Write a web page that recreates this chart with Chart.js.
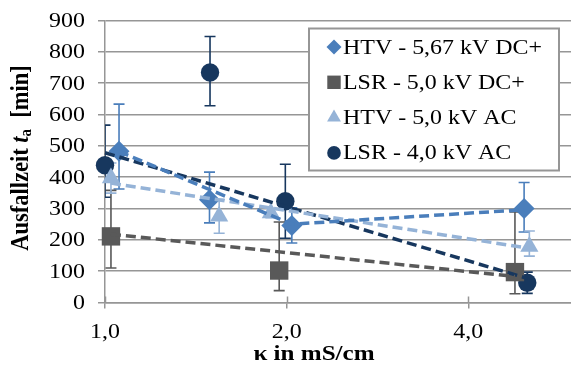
<!DOCTYPE html>
<html>
<head>
<meta charset="utf-8">
<script src="https://cdn.jsdelivr.net/npm/chart.js@4.4.0/dist/chart.umd.min.js"></script>
<style>
  html, body { margin: 0; padding: 0; background: #fff; }
</style>
</head>
<body>
<canvas id="chart" width="571" height="371"></canvas>
<script>
// x positions are kappa in mS/cm (log axis), y values are Ausfallzeit in min
const xTickValues = [1, 2, 4];
const yTickValues = [0, 100, 200, 300, 400, 500, 600, 700, 800, 900];

const htvDcX = [1.055, 1.49, 2.04, 4.95];
const htvDcY = [483, 328, 246, 300];
const htvDcUp = [150, 88, 56, 83];
const htvDcDown = [121, 74, 56, 75];
const htvDcTrendX = [1.055, 2.04, 4.95];
const htvDcTrendY = [482, 250, 296];

const lsrDcX = [1.023, 1.944, 4.78];
const lsrDcY = [211, 102, 97];
const lsrDcUp = [147, 155, 192];
const lsrDcDown = [101, 64, 69];
const lsrDcTrendX = [1.023, 4.78];
const lsrDcTrendY = [218, 83];

const htvAcX = [1.023, 1.546, 1.883, 5.05];
const htvAcY = [397, 275, 286, 179];
const htvAcUp = [48, 54, 15, 49];
const htvAcDown = [48, 54, 15, 31];
const htvAcTrendX = [1.023, 5.05];
const htvAcTrendY = [381, 173];

const lsrAcX = [1.0, 1.493, 1.99, 5.01];
const lsrAcY = [438, 734, 323, 63];
const lsrAcUp = [128, 115, 118, 34];
const lsrAcDown = [102, 106, 118, 34];
const lsrAcTrendX = [1.0, 5.01];
const lsrAcTrendY = [478, 77];

const labels = ["HTV - 5,67 kV DC+", "LSR - 5,0 kV DC+", "HTV - 5,0 kV AC", "LSR - 4,0 kV AC"];
const colors = ["#4A7EBB", "#595959", "#95B3D7", "#17375E"];

const SERIF = "'Liberation Serif', 'Times New Roman', serif";
const GRID = "#969696";
const STRETCH = 1.14; // the reference text is a bit wider than it is tall

const pts = (xs, ys) => xs.map((x, i) => ({ x, y: ys[i] }));

function markerSet(i, xs, ys, up, down, style, radius) {
  return {
    label: labels[i],
    data: pts(xs, ys),
    errUp: up,
    errDown: down,
    showLine: false,
    pointStyle: style,
    pointRadius: radius,
    pointHoverRadius: radius,
    pointBackgroundColor: colors[i],
    pointBorderColor: colors[i],
    pointBorderWidth: 0,
    backgroundColor: colors[i],
    borderColor: colors[i],
    clip: false,
    order: 2
  };
}

function trendSet(i, xs, ys) {
  return {
    label: labels[i] + " trend",
    data: pts(xs, ys),
    showLine: true,
    borderColor: colors[i],
    borderWidth: 3.5,
    borderDash: [10, 5],
    pointRadius: 0,
    fill: false,
    clip: false,
    order: 1
  };
}

// text with horizontal stretch, anchored at x
function stretchText(ctx, text, x, y, align) {
  ctx.save();
  ctx.translate(x, y);
  ctx.scale(STRETCH, 1);
  ctx.textAlign = align;
  ctx.fillText(text, 0, 0);
  ctx.restore();
}

// error bars, drawn under the markers
const errorBars = {
  id: "errorBars",
  beforeDatasetsDraw(chart) {
    const { ctx, chartArea, scales } = chart;
    ctx.save();
    ctx.beginPath();
    ctx.rect(chartArea.left, 0, chartArea.right - chartArea.left, chart.height);
    ctx.clip();
    chart.data.datasets.forEach(ds => {
      if (!ds.errUp) return;
      ctx.strokeStyle = ds.borderColor;
      ctx.lineWidth = 1.6;
      ds.data.forEach((p, i) => {
        const x = scales.x.getPixelForValue(p.x);
        const yTop = scales.y.getPixelForValue(p.y + ds.errUp[i]);
        const yBot = scales.y.getPixelForValue(p.y - ds.errDown[i]);
        ctx.beginPath();
        ctx.moveTo(x, yTop); ctx.lineTo(x, yBot);
        ctx.moveTo(x - 5.5, yTop); ctx.lineTo(x + 5.5, yTop);
        ctx.moveTo(x - 5.5, yBot); ctx.lineTo(x + 5.5, yBot);
        ctx.stroke();
      });
    });
    ctx.restore();
  }
};

// tick labels, axis titles, tick marks crossing the x axis, legend box
const extras = {
  id: "extras",
  afterDraw(chart) {
    const { ctx, chartArea, scales } = chart;
    ctx.save();

    ctx.strokeStyle = GRID;
    ctx.lineWidth = 1.5;
    xTickValues.forEach(v => {
      const x = Math.round(scales.x.getPixelForValue(v)) + 0.5;
      ctx.beginPath();
      ctx.moveTo(x, chartArea.bottom - 6);
      ctx.lineTo(x, chartArea.bottom);
      ctx.stroke();
    });

    ctx.fillStyle = "#000";
    ctx.textBaseline = "middle";
    ctx.font = "21px " + SERIF;
    yTickValues.forEach(v => {
      stretchText(ctx, String(v), 85, scales.y.getPixelForValue(v) + 1, "right");
    });
    xTickValues.forEach(v => {
      stretchText(ctx, v.toFixed(1).replace(".", ","), scales.x.getPixelForValue(v), chartArea.bottom + 30, "center");
    });

    // y title with italic t and subscript a
    ctx.textAlign = "left";
    const runs = [
      { t: "Ausfallzeit ", f: "bold 22.5px " + SERIF, dy: 0 },
      { t: "t", f: "italic bold 22.5px " + SERIF, dy: 0 },
      { t: "a", f: "bold 15px " + SERIF, dy: 5 },
      { t: "  [min]", f: "bold 22.5px " + SERIF, dy: 0 }
    ];
    let total = 0;
    runs.forEach(r => { ctx.font = r.f; r.w = ctx.measureText(r.t).width; total += r.w; });
    ctx.save();
    ctx.translate(21, 158);
    ctx.rotate(-Math.PI / 2);
    ctx.scale(1, STRETCH);
    let cx = -total / 2;
    runs.forEach(r => { ctx.font = r.f; ctx.fillText(r.t, cx, r.dy); cx += r.w; });
    ctx.restore();

    // x title
    ctx.font = "bold 22px " + SERIF;
    stretchText(ctx, "\u03BA in mS/cm", 314, 354, "center");

    // legend
    const lx = 309, ly = 28.5, lw = 250, lh = 142;
    ctx.fillStyle = "#fff";
    ctx.fillRect(lx, ly, lw, lh);
    ctx.strokeStyle = GRID;
    ctx.lineWidth = 2;
    ctx.strokeRect(lx, ly, lw, lh);
    const styles = [["rectRot", 7.5], ["rect", 9.5], ["triangle", 8], ["circle", 6.8]];
    ctx.font = "21px " + SERIF;
    for (let i = 0; i < 4; i++) {
      const y = 47 + i * 35.3;
      ctx.fillStyle = colors[i];
      ctx.strokeStyle = colors[i];
      Chart.helpers.drawPoint(ctx, { pointStyle: styles[i][0], radius: styles[i][1], borderWidth: 0, rotation: 0 }, 334, y);
      ctx.fillStyle = "#000";
      stretchText(ctx, labels[i], 343, y + 1, "left");
    }
    ctx.restore();
  }
};

new Chart(document.getElementById("chart"), {
  type: "scatter",
  data: {
    datasets: [
      markerSet(0, htvDcX, htvDcY, htvDcUp, htvDcDown, "rectRot", 10.5),
      markerSet(1, lsrDcX, lsrDcY, lsrDcUp, lsrDcDown, "rect", 13),
      markerSet(2, htvAcX, htvAcY, htvAcUp, htvAcDown, "triangle", 10.5),
      markerSet(3, lsrAcX, lsrAcY, lsrAcUp, lsrAcDown, "circle", 9.2),
      trendSet(0, htvDcTrendX, htvDcTrendY),
      trendSet(1, lsrDcTrendX, lsrDcTrendY),
      trendSet(2, htvAcTrendX, htvAcTrendY),
      trendSet(3, lsrAcTrendX, lsrAcTrendY)
    ]
  },
  options: {
    responsive: false,
    animation: false,
    layout: { autoPadding: false, padding: { top: 20.5, left: 0, right: 0, bottom: 0 } },
    plugins: { legend: { display: false }, tooltip: { enabled: false } },
    scales: {
      x: {
        type: "logarithmic",
        min: 1,
        max: 5.92,
        afterBuildTicks: s => { s.ticks = xTickValues.map(v => ({ value: v })); },
        afterFit: s => { s.height = 68.5; s.paddingLeft = 0; s.paddingRight = 0; },
        ticks: { display: false, autoSkip: false },
        grid: { drawOnChartArea: false, drawTicks: true, tickLength: 6, color: GRID, lineWidth: 1.5 },
        border: { color: GRID, width: 1.5 }
      },
      y: {
        min: 0,
        max: 900,
        afterFit: s => { s.width = 105; s.paddingTop = 0; s.paddingBottom = 0; },
        ticks: { display: false, stepSize: 100 },
        grid: { color: GRID, lineWidth: 1.5, tickLength: 7 },
        border: { color: GRID, width: 1.5 }
      }
    }
  },
  plugins: [errorBars, extras]
});
</script>
</body>
</html>
